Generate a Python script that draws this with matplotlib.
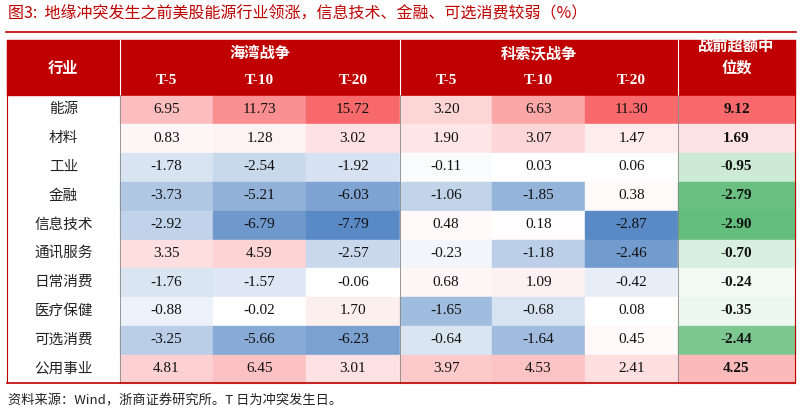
import matplotlib
matplotlib.use("Agg")
import matplotlib.pyplot as plt
import numpy as np
from matplotlib.colors import to_rgb

plt.rcParams['font.family'] = ['Noto Sans CJK SC', 'DejaVu Sans']

industries = ["能源","材料","工业","金融","信息技术","通讯服务","日常消费","医疗保健","可选消费","公用事业"]
gulf = [[6.95,11.73,15.72],[0.83,1.28,3.02],[-1.78,-2.54,-1.92],[-3.73,-5.21,-6.03],[-2.92,-6.79,-7.79],
        [3.35,4.59,-2.57],[-1.76,-1.57,-0.06],[-0.88,-0.02,1.70],[-3.25,-5.66,-6.23],[4.81,6.45,3.01]]
kosovo = [[3.20,6.63,11.30],[1.90,3.07,1.47],[-0.11,0.03,0.06],[-1.06,-1.85,0.38],[0.48,0.18,-2.87],
          [-0.23,-1.18,-2.46],[0.68,1.09,-0.42],[-1.65,-0.68,0.08],[-0.64,-1.64,0.45],[3.97,4.53,2.41]]
median = [9.12,1.69,-0.95,-2.79,-2.90,-0.70,-0.24,-0.35,-2.44,4.25]
periods = ["T-5","T-10","T-20"]

W, H = 802, 413
fig = plt.figure(figsize=(W/100, H/100), dpi=100)
ax = fig.add_axes([0,0,1,1])
ax.set_xlim(0, W); ax.set_ylim(H, 0); ax.axis('off')

RED = np.array(to_rgb('#F8696B')); BLUE = np.array(to_rgb('#5A8AC6'))
GREEN = np.array(to_rgb('#63BE7B')); WHITE = np.ones(3)
def col(v, vmin, vmax, neg):
    if v >= 0:
        t = v / vmax; return WHITE + (RED - WHITE) * t
    t = v / vmin; return WHITE + (neg - WHITE) * t

hdr = '#C00000'
ax.text(8, 13, "图3:  地缘冲突发生之前美股能源行业领涨，信息技术、金融、可选消费较弱（%）",
        color='#C00000', fontsize=11.5, va='center', ha='left')
ax.plot([6, 796], [32, 32], color='#C00000', lw=1.2)

xs = [7, 120, 213, 306, 400, 492, 585, 678, 795]
top, hmid, hbot = 40, 67, 95
rh = (383 - hbot) / 10
ax.add_patch(plt.Rectangle((xs[0], top), xs[-1]-xs[0], hbot-top, color=hdr))
for x in [xs[1], xs[4], xs[7]]:
    ax.plot([x, x], [top, hbot], color='white', lw=0.8)
ax.text((xs[0]+xs[1])/2, (top+hbot)/2, "行业", color='white', fontsize=11, weight='bold', ha='center', va='center')
ax.text((xs[1]+xs[4])/2, 53, "海湾战争", color='white', fontsize=11, weight='bold', ha='center', va='center')
ax.text((xs[4]+xs[7])/2, 53, "科索沃战争", color='white', fontsize=11, weight='bold', ha='center', va='center')
ax.text((xs[7]+xs[8])/2, 57, "战前超额中\n位数", color='white', fontsize=11, weight='bold', ha='center', va='center', linespacing=1.5)
for j in range(6):
    ax.text((xs[j+1]+xs[j+2])/2, 81, periods[j % 3], color='white', fontsize=11, weight='bold',
            ha='center', va='center', family='Liberation Serif')

groups = [np.array(gulf), np.array(kosovo)]
for i in range(10):
    y0 = hbot + i*rh
    ax.text((xs[0]+xs[1])/2, y0+rh/2, industries[i], fontsize=10.5, ha='center', va='center', color='#222222')
    for g, arr in enumerate(groups):
        vmin, vmax = arr.min(), arr.max()
        for k in range(3):
            c = 1 + g*3 + k
            v = arr[i, k]
            ax.add_patch(plt.Rectangle((xs[c], y0+0.5), xs[c+1]-xs[c], rh-1, color=col(v, vmin, vmax, BLUE)))
            ax.text((xs[c]+xs[c+1])/2, y0+rh/2, f"{v:.2f}", fontsize=11, ha='center', va='center',
                    family='Liberation Serif', color='#111111')
    v = median[i]
    ax.add_patch(plt.Rectangle((xs[7], y0+0.5), xs[8]-xs[7], rh-1, color=col(v, min(median), max(median), GREEN)))
    ax.text((xs[7]+xs[8])/2, y0+rh/2, f"{v:.2f}", fontsize=11, weight='bold', ha='center', va='center',
            family='Liberation Serif', color='#111111')
for x in [xs[1], xs[4], xs[7]]:
    ax.plot([x, x], [hbot, 383], color='#888888', lw=0.6)
ax.plot([xs[0], xs[-1]], [383, 383], color='#C00000', lw=1.2)
ax.plot([xs[0], xs[0]], [top, 383], color='#C00000', lw=0.8)
ax.plot([xs[-1], xs[-1]], [top, 383], color='#C00000', lw=0.8)
ax.text(8, 401, "资料来源：Wind，浙商证券研究所。T 日为冲突发生日。", fontsize=9.5, ha='left', va='center', color='#222222')
fig.savefig("out.png", dpi=100)
